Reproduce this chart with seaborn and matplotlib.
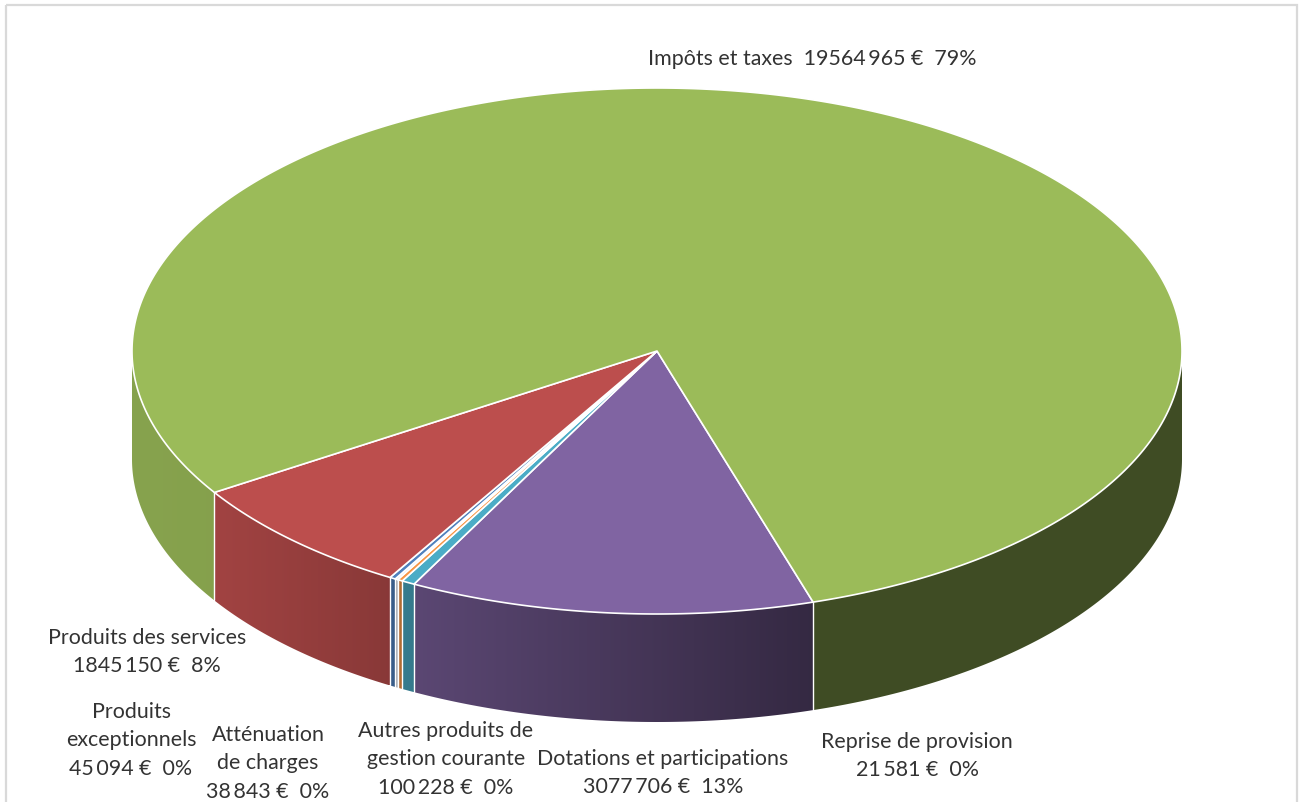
import numpy as np
import matplotlib
matplotlib.use("Agg")
import matplotlib.pyplot as plt
from matplotlib.patches import Polygon, Rectangle
import seaborn as sns

# Budget revenue lines, in euros, in clockwise drawing order
categories = [
    "Dotations et participations",
    "Autres produits de\ngestion courante",
    "Atténuation\nde charges",
    "Reprise de provision",
    "Produits\nexceptionnels",
    "Produits des services",
    "Impôts et taxes",
]
values = [3077706, 100228, 38843, 21581, 45094, 1845150, 19564965]
percents = [13, 0, 0, 0, 0, 8, 79]
slice_colors = ["#8064A2", "#4BACC6", "#F79646", "#DDE5F2", "#4F81BD", "#BC4E4D", "#9BBB59"]

# Label anchors (centre x, first-line centre y) per category
label_x = [663, 446, 268, 917, 131, 147, 812]
label_y = [758, 730, 734, 741, 711, 637, 58]

CX, CY, RX, RY, DEPTH = 657, 352, 525, 263, 108
START_ANGLE = 72.7

sns.set_theme(style="white")
plt.rcParams["font.family"] = ["Lato", "DejaVu Sans"]
palette = sns.color_palette(slice_colors)

fig = plt.figure(figsize=(13.07, 8.03), dpi=100, facecolor="white")
ax = fig.add_axes([0, 0, 1, 1])
ax.set_autoscale_on(False)
ax.set_xlim(0, 1307)
ax.set_ylim(803, 0)
ax.axis("off")

ax.add_patch(Rectangle((5.5, 5.5), 1291, 830, fill=False, edgecolor="#D9D9D9", linewidth=1.6))


def rim(deg):
    rad = np.radians(deg)
    return CX + RX * np.cos(rad), CY + RY * np.sin(rad)


def side_shade(x):
    # Side wall darkens from left to right
    return np.interp(x, [132, 214, 813, 1182], [0.87, 0.86, 0.41, 0.41])


sweeps = 360 * np.array(values) / np.sum(values)
edges = START_ANGLE + np.concatenate([[0], np.cumsum(sweeps)])

# Side walls: only the front half of the rim is visible
for color, a0, a1 in zip(palette, edges[:-1], edges[1:]):
    for base in (0, 360):
        lo, hi = max(a0, base), min(a1, base + 180)
        if hi <= lo:
            continue
        ts = np.linspace(lo, hi, 200)
        xs, ys = rim(ts)
        outline = np.column_stack([np.r_[xs, xs[::-1]], np.r_[ys, ys[::-1] + DEPTH]])
        wall = Polygon(outline, closed=True, facecolor="none", edgecolor="none",
                       transform=ax.transData)
        ax.add_patch(wall)
        x_left, x_right = xs.min(), xs.max()
        columns = np.linspace(x_left, x_right, max(2, int(x_right - x_left) + 1))
        ramp = np.outer(side_shade(columns), np.array(color))[np.newaxis, :, :]
        image = ax.imshow(ramp, extent=(x_left, x_right, ys.max() + DEPTH, ys.min()),
                          aspect="auto", interpolation="bilinear", zorder=2)
        image.set_clip_path(wall)

# White seams between wall segments
for a in edges[:-1]:
    if np.sin(np.radians(a)) > 0:
        x, y = rim(a)
        ax.plot([x, x], [y, y + DEPTH], color="white", linewidth=1.0, zorder=3)

# Top face
for color, a0, a1 in zip(palette, edges[:-1], edges[1:]):
    ts = np.linspace(a0, a1, max(3, int((a1 - a0) * 4)))
    xs, ys = rim(ts)
    ax.fill(np.r_[CX, xs], np.r_[CY, ys], facecolor=color, edgecolor="white",
            linewidth=1.2, joinstyle="round", zorder=4)


def money(v):
    head, tail = str(v)[:-3], str(v)[-3:]
    return f"{head}\u2009{tail}\u00a0€"


for name, v, pct, x, y in zip(categories, values, percents, label_x, label_y):
    if name.startswith("Impôts"):
        text = f"{name}  {money(v)}  {pct}%"
    else:
        text = f"{name}\n{money(v)}  {pct}%"
    ax.text(x, y - 9, text, ha="center", va="top", fontsize=15.4, color="#333333",
            linespacing=1.52, zorder=5)

fig.savefig("out.png", dpi=100)
